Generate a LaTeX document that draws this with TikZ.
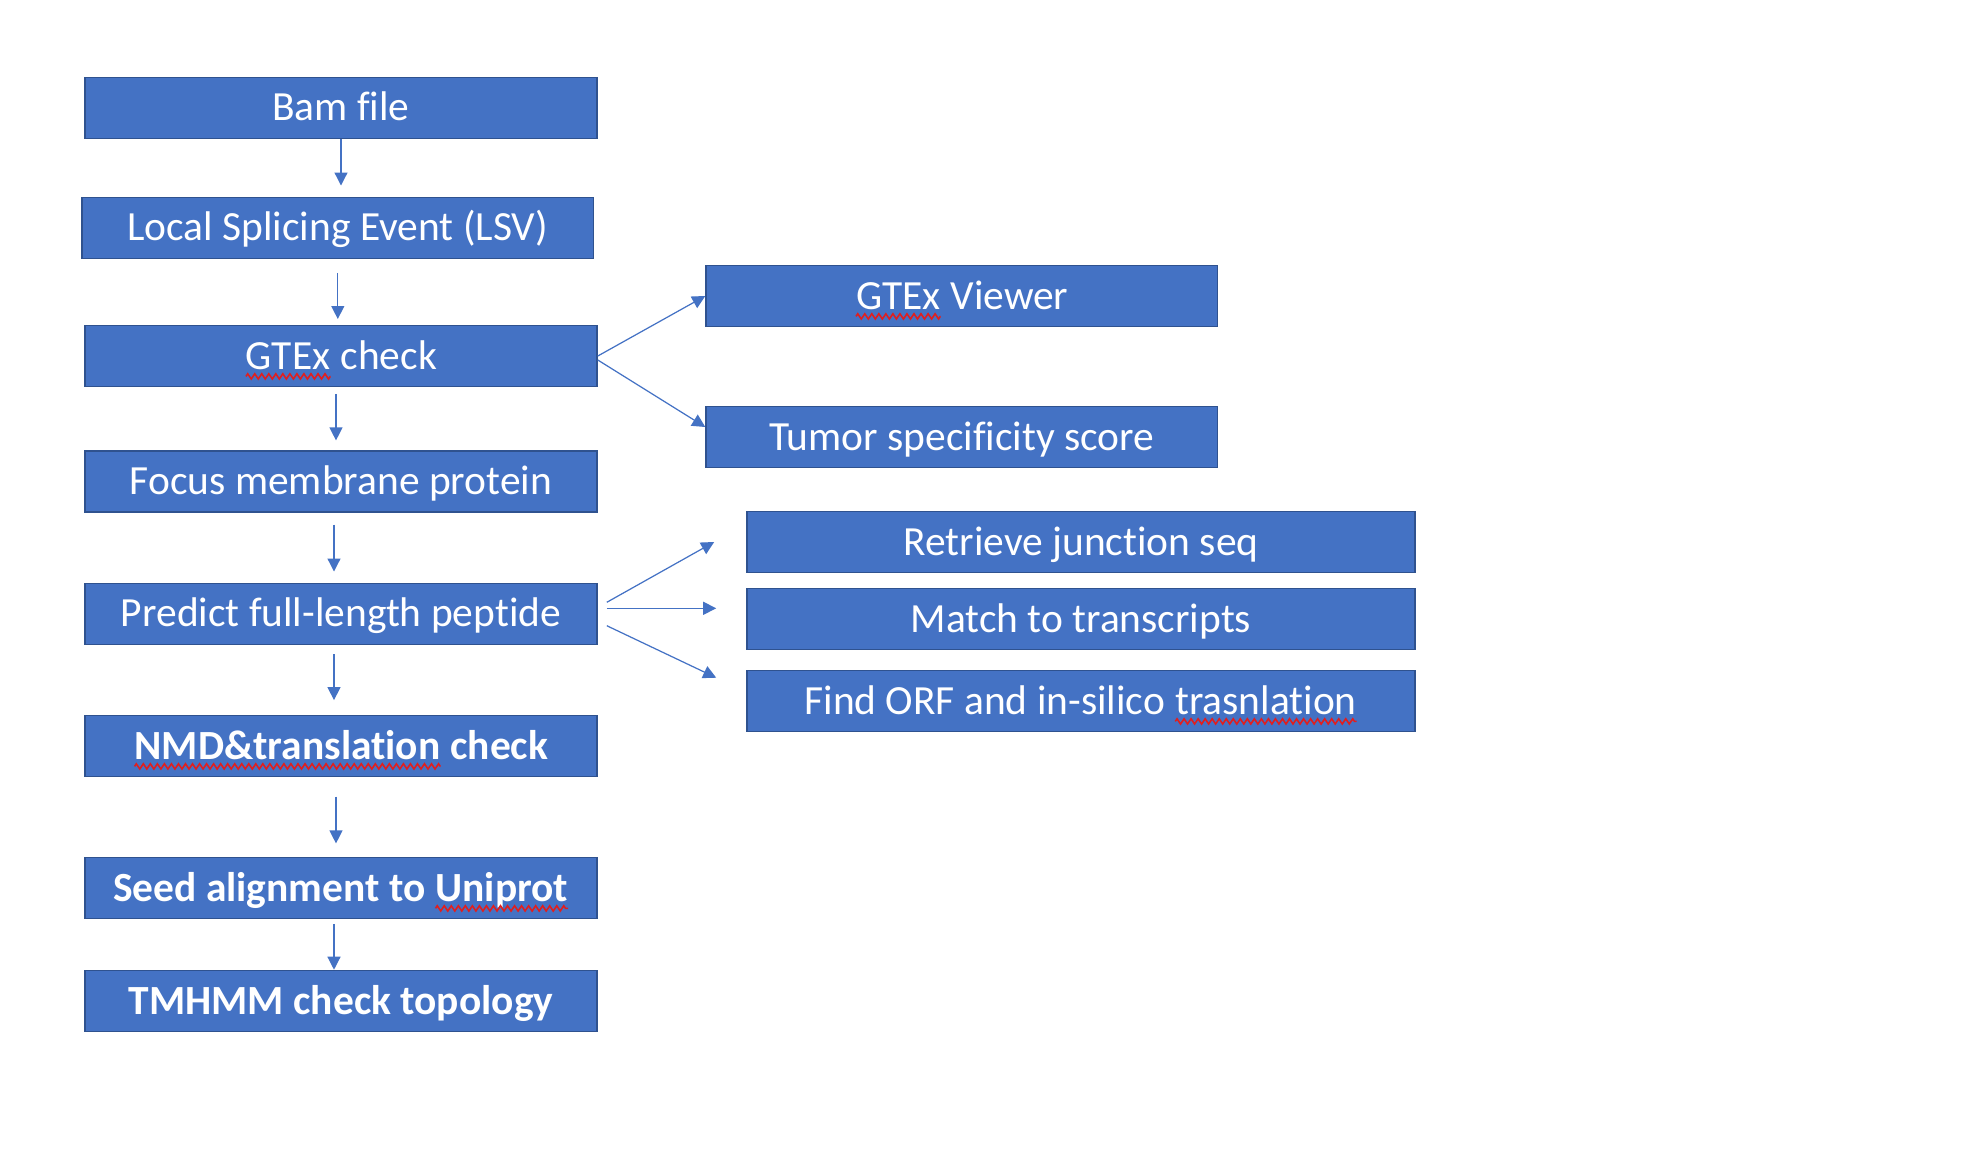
\documentclass[tikz,border=0pt]{standalone}
\usepackage{fontspec}
\setmainfont{Carlito}[Ligatures=NoCommon]
\usepackage{tikz}
\usetikzlibrary{arrows.meta, positioning, decorations.pathmorphing}
\definecolor{boxBlue}{RGB}{68, 114, 196}
\definecolor{boxEdge}{RGB}{47, 82, 143}
\definecolor{arrowBlue}{RGB}{68, 114, 196}
\definecolor{spellRed}{RGB}{225, 30, 30}

% red wavy underline under a word
\newcommand{\squig}[1]{\tikz[baseline=(sq.base)]{%
    \node[inner sep=0pt, outer sep=0pt, minimum width=0pt, minimum height=0pt, text height=, text depth=] (sq) {#1};%
    \draw[spellRed, line width=0.45pt, decorate, decoration={zigzag, amplitude=0.75pt, segment length=2pt}]
        ([yshift=-2.1pt]sq.base west) -- ([yshift=-2.1pt]sq.base east);}}

\begin{document}
\begin{tikzpicture}[
    stepbox/.style={
        rectangle,
        minimum width=5.12cm,
        minimum height=0.61cm,
        inner sep=0pt,
        text height=0.30cm,
        text depth=0.04cm,
        text centered,
        font=\fontsize{11.8}{14}\selectfont,
        text=white,
        fill=boxBlue,
        draw=boxEdge,
        line width=0.45pt
    },
    subbox/.style={
        stepbox,
        minimum width=6.68cm
    },
    flow/.style={
        -{Triangle[length=0.13cm, width=0.13cm]},
        draw=arrowBlue,
        line width=0.35pt
    }
]
\useasboundingbox (0,0) rectangle (19.86,-11.6);

% Main pipeline
\node[stepbox] (bam) at (3.41, -1.078) {Bam file};
\node[stepbox, minimum width=5.116cm] (lsv) at (3.378, -2.278) {Local Splicing Event (LSV)};
\node[stepbox] (gtex) at (3.41, -3.56) {\squig{GTEx} check};
\node[stepbox] (focus) at (3.41, -4.817) {Focus membrane protein};
\node[stepbox] (predict) at (3.41, -6.138) {Predict full-length peptide};
\node[stepbox, font=\fontsize{11.8}{14}\selectfont\bfseries] (nmd) at (3.41, -7.46) {\squig{NMD\&translation} check};
\node[stepbox, font=\fontsize{11.8}{14}\selectfont\bfseries] (seed) at (3.41, -8.88) {Seed alignment to \squig{Uniprot}};
\node[stepbox, font=\fontsize{11.8}{14}\selectfont\bfseries] (tmhmm) at (3.41, -10.01) {TMHMM check topology};

% GTEx branch
\node[stepbox, minimum width=5.115cm] (viewer) at (9.618, -2.96) {\squig{GTEx} Viewer};
\node[stepbox, minimum width=5.115cm] (tumor) at (9.618, -4.37) {Tumor specificity score};

% Peptide branch
\node[subbox] (retrieve) at (10.81, -5.42) {Retrieve junction seq};
\node[subbox] (match) at (10.81, -6.19) {Match to transcripts};
\node[subbox] (findorf) at (10.81, -7.01) {Find ORF and in-silico \squig{trasnlation}};

% Arrows down the pipeline
\draw[flow, shorten >=0.11cm] (bam.south) -- (bam.south |- lsv.north);
\draw[flow, shorten <=0.137cm, shorten >=0.057cm] (lsv.south) -- (lsv.south |- gtex.north);
\draw[flow, shorten <=0.065cm, shorten >=0.10cm] ([xshift=-0.05cm]gtex.south) -- ([xshift=-0.05cm]gtex.south |- focus.north);
\draw[flow, shorten <=0.117cm, shorten >=0.11cm] ([xshift=-0.07cm]focus.south) -- ([xshift=-0.07cm]focus.south |- predict.north);
\draw[flow, shorten <=0.09cm, shorten >=0.146cm] ([xshift=-0.07cm]predict.south) -- ([xshift=-0.07cm]predict.south |- nmd.north);
\draw[flow, shorten <=0.193cm, shorten >=0.133cm] ([xshift=-0.05cm]nmd.south) -- ([xshift=-0.05cm]nmd.south |- seed.north);
\draw[flow, shorten <=0.046cm] ([xshift=-0.07cm]seed.south) -- ([xshift=-0.07cm]seed.south |- tmhmm.north);

% Arrows to the branches
\draw[flow] (gtex.east) -- (viewer.west);
\draw[flow] ([yshift=-0.04cm]gtex.east) -- ([yshift=0.10cm]tumor.west);
\draw[flow] ([xshift=0.09cm, yshift=0.115cm]predict.east) -- ([xshift=-0.32cm]retrieve.west);
\draw[flow] ([xshift=0.09cm, yshift=0.055cm]predict.east) -- ([xshift=-0.30cm, yshift=0.107cm]match.west);
\draw[flow] ([xshift=0.09cm, yshift=-0.119cm]predict.east) -- ([xshift=-0.30cm, yshift=0.233cm]findorf.west);

\end{tikzpicture}
\end{document}
